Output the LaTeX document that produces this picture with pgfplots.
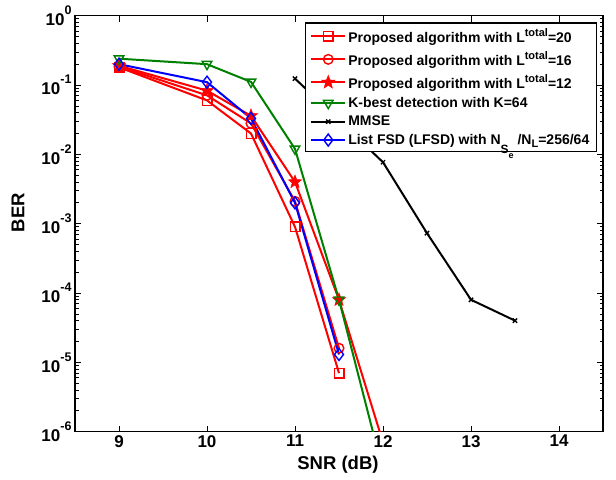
\documentclass[border=0pt]{standalone}
\usepackage{fontspec}
\setmainfont{Liberation Sans}
\usepackage{pgfplots}
\pgfplotsset{compat=1.18}

\definecolor{mgreen}{rgb}{0,0.5,0}

% superscripts / subscripts at fixed sizes (textsuperscript would fall back to 7pt)
\newcommand\tsup[1]{\raisebox{11pt}{\fontsize{12.5}{13}\selectfont #1}}
\newcommand\lsup[1]{\raisebox{6.5pt}{\fontsize{11}{11}\selectfont #1}}
\newcommand\lsub[1]{\raisebox{-3.5pt}{\fontsize{11}{11}\selectfont #1}}

% filled five pointed star
\pgfdeclareplotmark{fstar}{%
  \pgfpathmoveto{\pgfqpointpolar{90}{\pgfplotmarksize}}%
  \pgfpathlineto{\pgfqpointpolar{126}{0.42\pgfplotmarksize}}%
  \pgfpathlineto{\pgfqpointpolar{162}{\pgfplotmarksize}}%
  \pgfpathlineto{\pgfqpointpolar{198}{0.42\pgfplotmarksize}}%
  \pgfpathlineto{\pgfqpointpolar{234}{\pgfplotmarksize}}%
  \pgfpathlineto{\pgfqpointpolar{270}{0.42\pgfplotmarksize}}%
  \pgfpathlineto{\pgfqpointpolar{306}{\pgfplotmarksize}}%
  \pgfpathlineto{\pgfqpointpolar{342}{0.42\pgfplotmarksize}}%
  \pgfpathlineto{\pgfqpointpolar{18}{\pgfplotmarksize}}%
  \pgfpathlineto{\pgfqpointpolar{54}{0.42\pgfplotmarksize}}%
  \pgfpathclose
  \pgfusepathqfillstroke}

\begin{document}
\begin{tikzpicture}
\begin{axis}[
    name=ax,
    scale only axis,
    width=528pt, height=416pt,
    ymode=log,
    xmin=8.5, xmax=14.5,
    ymin=1e-6, ymax=1,
    xtick={9,10,11,12,13,14},
    xticklabels={9,10,11,12,13,14},
    ytick={1e-6,1e-5,1e-4,1e-3,1e-2,1e-1,1},
    yticklabels={10\tsup{-6},10\tsup{-5},10\tsup{-4},10\tsup{-3},10\tsup{-2},10\tsup{-1},10\tsup{0}},
    tick label style={font=\fontsize{17}{18}\selectfont\bfseries},
    xlabel={\fontsize{18.5}{20}\selectfont\bfseries SNR (dB)},
    ylabel={\fontsize{18.5}{20}\selectfont\bfseries BER},
    xlabel style={at={(axis description cs:0.498,-0.079)}, anchor=center},
    ylabel style={at={(axis description cs:-0.108,0.527)}, anchor=center},
    axis line style={line width=1.4pt},
    major tick length=6pt, minor tick length=3.5pt,
    every tick/.style={black, line width=0.8pt},
    legend style={at={(1,1)}, xshift=-6pt, yshift=-6.5pt, anchor=north east,
        draw=black, line width=1.4pt, font=\fontsize{14}{16}\selectfont\bfseries,
        cells={anchor=west}, inner xsep=5pt, inner ysep=3.5pt, row sep=3pt},
    legend image code/.code={\draw[mark repeat=2,mark phase=2] plot coordinates {(0pt,0pt)(17pt,0pt)(34pt,0pt)};},
    every axis plot/.append style={line width=2pt},
]
\addplot[red, mark=square, mark size=4.8pt, mark options={solid, line width=1.4pt}] coordinates {
(9,0.18)(10,0.06)(10.5,0.02)(11,0.0009)(11.5,7e-6)
};
\addlegendentry{Proposed algorithm with L\lsup{total}=20}
\addplot[red, mark=o, mark size=4.8pt, mark options={solid, line width=1.4pt}] coordinates {
(9,0.185)(10,0.071)(10.5,0.028)(11,0.0021)(11.5,1.6e-5)
};
\addlegendentry{Proposed algorithm with L\lsup{total}=16}
\addplot[red, mark=fstar, mark size=7pt, mark options={solid, fill=red, line width=0.5pt}] coordinates {
(9,0.19)(10,0.083)(10.5,0.036)(11,0.004)(11.5,8e-5)(12,7e-7)
};
\addlegendentry{Proposed algorithm with L\lsup{total}=12}
\addplot[mgreen, mark=triangle, mark size=5.5pt, mark options={solid, rotate=180, line width=1.4pt}] coordinates {
(9,0.24)(10,0.20)(10.5,0.111)(11,0.012)(11.5,8e-5)(12,2.7e-7)
};
\addlegendentry{K-best detection with K=64}
\addplot[black, mark=x, mark size=3pt, mark options={solid, line width=1.4pt}] coordinates {
(11,0.124)(12,0.0077)(12.5,7.3e-4)(13,8e-5)(13.5,4e-5)
};
\addlegendentry{MMSE}
\addplot[blue, mark=diamond, mark size=6pt, mark options={solid, line width=1.4pt}] coordinates {
(9,0.20)(10,0.11)(10.5,0.033)(11,0.002)(11.5,1.3e-5)
};
\addlegendentry{List FSD (LFSD) with N\raisebox{-9pt}{\fontsize{12}{12}\selectfont S\raisebox{-5pt}{\fontsize{9}{9}\selectfont e}} /N\lsub{L}=256/64}
\end{axis}
\pgfresetboundingbox
\path[use as bounding box] (ax.south west) ++(-75pt,-48pt) rectangle ([xshift=13pt,yshift=15.7pt]ax.north east);
\end{tikzpicture}
\end{document}
